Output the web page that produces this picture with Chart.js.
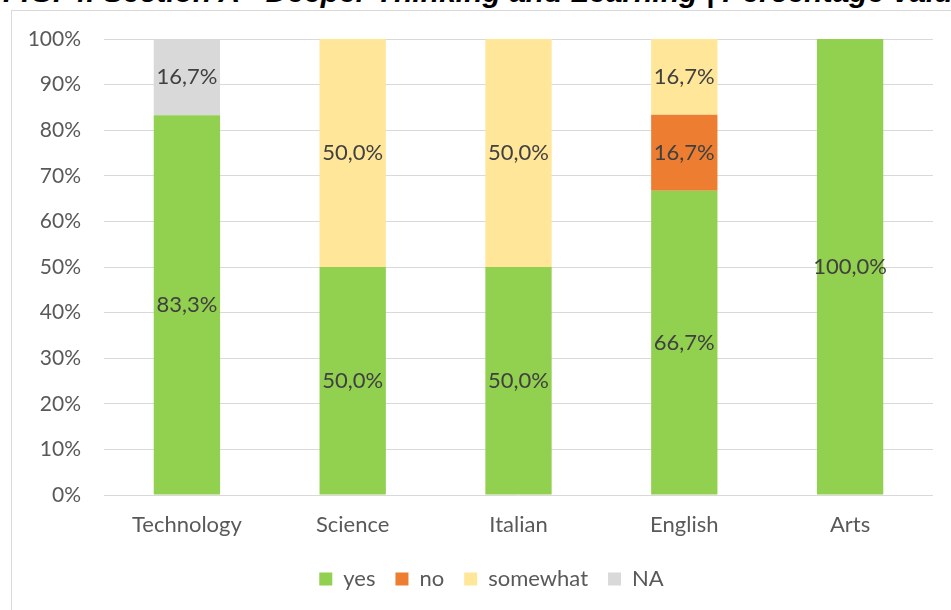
<!DOCTYPE html>
<html>
<head>
<meta charset="utf-8">
<script src="https://cdn.jsdelivr.net/npm/chart.js@4"></script>
<style>
  html, body { margin: 0; padding: 0; background: #fff; }
  #wrap { position: relative; width: 951px; height: 610px; overflow: hidden; }
  #title {
    position: absolute; left: 3px; top: -25px; white-space: nowrap; line-height: 34px;
    font: italic bold 30px "Liberation Sans", Arial, sans-serif; color: #000;
  }
  #frame {
    position: absolute; left: 11px; top: 10px; width: 960px; height: 620px;
    border: 1px solid #d9d9d9; box-sizing: border-box;
  }
  canvas { position: absolute; left: 0; top: 0; }
</style>
</head>
<body>
<div id="wrap">
  <div id="title">FIG. 4. Section A - Deeper Thinking and Learning | Percentage value</div>
  <div id="frame"></div>
  <canvas id="chart" width="951" height="610"></canvas>
</div>
<script>
// --- DATA ---
const subjects = ['Technology', 'Science', 'Italian', 'English', 'Arts'];
const yes = [83.3, 50.0, 50.0, 66.7, 100.0];
const no = [0, 0, 0, 16.7, 0];
const somewhat = [0, 50.0, 50.0, 16.7, 0];
const na = [16.7, 0, 0, 0, 0];

const FONT = 'Lato, "Open Sans", sans-serif';

// draws the value in the middle of each bar segment
const segmentLabels = {
  id: 'segmentLabels',
  afterDatasetsDraw(chart) {
    const ctx = chart.ctx;
    ctx.save();
    ctx.font = '22px ' + FONT;
    ctx.fillStyle = '#404040';
    ctx.textAlign = 'center';
    ctx.textBaseline = 'middle';
    chart.data.datasets.forEach((ds, i) => {
      const meta = chart.getDatasetMeta(i);
      meta.data.forEach((bar, j) => {
        const v = ds.data[j];
        if (!v) return;
        const y = (bar.y + bar.base) / 2;
        ctx.fillText(v.toFixed(1).replace('.', ',') + '%', bar.x, y);
      });
    });
    ctx.restore();
  }
};

// legend sits a bit right of the canvas centre, under the frame
const legendShift = {
  id: 'legendShift',
  afterLayout(chart) {
    chart.legend.left += 25;
    chart.legend.right += 25;
  }
};

const ctx = document.getElementById('chart').getContext('2d');
new Chart(ctx, {
  type: 'bar',
  data: {
    labels: subjects,
    datasets: [
      { label: 'yes', data: yes, backgroundColor: '#92d050' },
      { label: 'no', data: no, backgroundColor: '#ed7d31' },
      { label: 'somewhat', data: somewhat, backgroundColor: '#ffe699' },
      { label: 'NA', data: na, backgroundColor: '#d9d9d9' }
    ]
  },
  options: {
    responsive: false,
    animation: false,
    layout: { padding: { top: 39, right: 18, bottom: 10, left: 0 } },
    datasets: { bar: { categoryPercentage: 1, barPercentage: 0.4 } },
    plugins: {
      legend: {
        position: 'bottom',
        labels: {
          boxWidth: 13, boxHeight: 13, padding: 20,
          color: '#595959', font: { family: FONT, size: 22 }
        }
      },
      tooltip: { enabled: false }
    },
    scales: {
      x: {
        stacked: true,
        grid: { display: false, drawTicks: false },
        border: { display: false },
        ticks: { color: '#595959', font: { family: FONT, size: 22 }, padding: 17 },
        afterFit: s => { s.height = 53; }
      },
      y: {
        stacked: true,
        min: 0, max: 100,
        grid: { color: '#d9d9d9', lineWidth: 1, drawTicks: false },
        border: { display: false },
        ticks: {
          stepSize: 10, padding: 23,
          color: '#595959', font: { family: FONT, size: 21 },
          callback: v => v + '%'
        },
        afterFit: s => { s.width = 104; }
      }
    }
  },
  plugins: [segmentLabels, legendShift]
});
</script>
</body>
</html>
